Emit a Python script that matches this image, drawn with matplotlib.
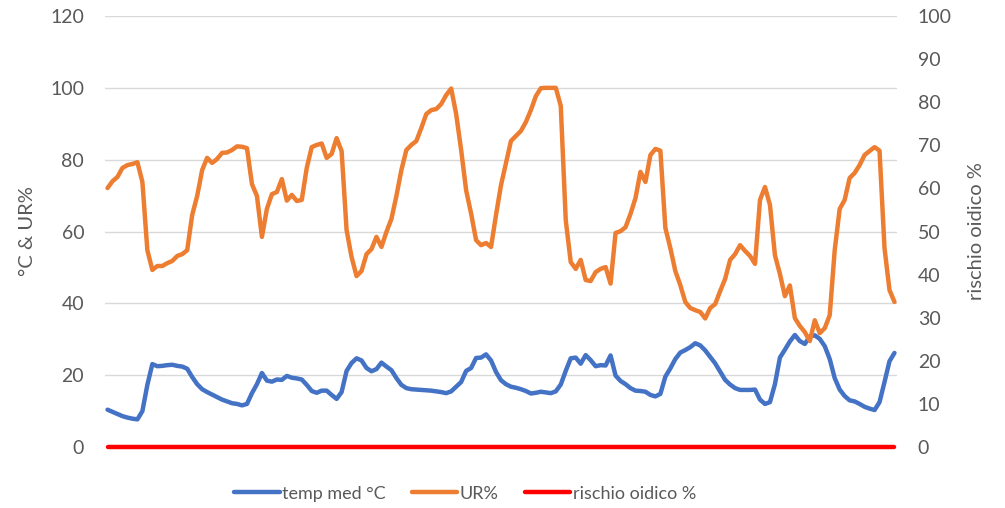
import numpy as np
import matplotlib
matplotlib.use("Agg")
import matplotlib.pyplot as plt

plt.rcParams['font.family'] = ['Lato', 'DejaVu Sans']

# dati (un campione ogni ~5 px)
ur = [72.1, 74.0, 75.2, 77.7, 78.5, 78.8, 79.3, 73.8, 54.8, 49.3,
      50.4, 50.4, 51.2, 51.8, 53.2, 53.7, 54.8, 64.6, 69.9, 77.1,
      80.5, 79.1, 80.2, 81.9, 82.0, 82.7, 83.7, 83.6, 83.2, 73.2,
      69.9, 58.5, 66.3, 70.4, 71.0, 74.6, 68.6, 70.2, 68.5, 68.8,
      77.7, 83.5, 84.1, 84.5, 80.5, 81.6, 86.0, 82.4, 60.4, 52.9,
      47.6, 49.0, 53.7, 55.1, 58.5, 55.7, 59.9, 63.5, 69.9, 77.1,
      82.7, 84.1, 85.2, 88.8, 92.7, 93.8, 94.1, 95.5, 98.0, 99.8,
      92.7, 82.7, 71.5, 65.0, 57.6, 56.2, 56.8, 55.7, 64.6, 72.9,
      79.1, 85.2, 86.6, 88.0, 90.5, 93.8, 97.7, 99.9, 100.0, 100.0,
      100.0, 95.0, 63.2, 51.5, 49.6, 52.1, 46.5, 46.2, 48.7, 49.6,
      50.1, 45.5, 59.6, 60.1, 61.2, 64.9, 69.3, 76.6, 73.8, 81.3,
      83.0, 82.5, 61.0, 55.4, 49.0, 45.1, 40.4, 38.7, 38.1, 37.6,
      35.8, 38.7, 39.8, 43.4, 46.8, 52.1, 53.7, 56.2, 54.6, 53.2,
      51.0, 68.8, 72.4, 67.4, 53.4, 48.2, 42.0, 45.0, 35.9, 33.7,
      32.0, 29.5, 35.3, 31.7, 33.1, 36.7, 54.8, 66.3, 68.8, 74.9,
      76.3, 78.5, 81.3, 82.4, 83.5, 82.5, 55.4, 43.7, 40.4]

temp = [10.4, 9.8, 9.2, 8.6, 8.2, 7.9, 7.7, 10.0, 17.3, 23.1,
        22.5, 22.6, 22.8, 22.9, 22.6, 22.4, 21.8, 19.5, 17.5, 16.1,
        15.3, 14.6, 13.9, 13.2, 12.7, 12.2, 12.0, 11.6, 12.0, 15.0,
        17.5, 20.6, 18.5, 18.2, 18.8, 18.7, 19.8, 19.3, 19.1, 18.8,
        17.3, 15.6, 15.1, 15.7, 15.7, 14.5, 13.4, 15.3, 21.2, 23.4,
        24.7, 24.1, 22.0, 21.1, 21.7, 23.5, 22.4, 21.4, 19.2, 17.3,
        16.4, 16.1, 16.0, 15.9, 15.8, 15.7, 15.5, 15.3, 15.0, 15.5,
        16.8, 18.1, 21.2, 22.0, 24.8, 24.9, 25.8, 24.1, 20.9, 18.6,
        17.5, 16.8, 16.5, 16.1, 15.6, 14.9, 15.1, 15.4, 15.2, 15.0,
        15.5, 17.4, 21.2, 24.7, 24.9, 23.2, 25.6, 24.2, 22.5, 22.8,
        22.7, 25.5, 19.9, 18.4, 17.5, 16.4, 15.7, 15.6, 15.4, 14.5,
        14.1, 14.8, 19.6, 21.9, 24.5, 26.3, 27.0, 27.8, 28.9, 28.3,
        26.9, 25.1, 23.3, 21.0, 18.7, 17.4, 16.4, 15.9, 15.9, 15.9,
        16.0, 13.2, 12.0, 12.5, 17.5, 24.9, 27.1, 29.4, 31.2, 29.5,
        28.7, 30.8, 31.1, 30.1, 28.1, 24.5, 19.2, 16.0, 14.2, 13.0,
        12.7, 12.0, 11.2, 10.7, 10.3, 12.5, 18.1, 23.9, 26.2]

rischio = [0.0] * len(temp)

x = np.arange(len(temp))
txt = '#595959'

fig = plt.figure(figsize=(10.05, 5.08), dpi=100)
ax = fig.add_axes([0.1045, 0.12, 0.788, 0.8485])
ax2 = ax.twinx()

l1, = ax.plot(x, temp, color='#4472C4', lw=3.2, solid_capstyle='round',
              solid_joinstyle='round', label='temp med °C')
l2, = ax.plot(x, ur, color='#ED7D31', lw=3.2, solid_capstyle='round',
              solid_joinstyle='round', label='UR%')
l3, = ax2.plot(x, rischio, color='#FF0000', lw=3.2, solid_capstyle='round',
               clip_on=False, label='rischio oidico %')

ax.set_xlim(-0.5, len(x) - 0.5)
ax.set_ylim(0, 120)
ax.set_yticks(range(0, 121, 20))
ax2.set_ylim(0, 100)
ax2.set_yticks(range(0, 101, 10))
ax.set_xticks([])

ax.grid(axis='y', color='#d9d9d9', lw=1)
ax.set_axisbelow(True)
for a in (ax, ax2):
    for s in a.spines.values():
        s.set_visible(False)
    a.tick_params(axis='y', length=0, labelsize=14, colors=txt, pad=15)

ax.set_ylabel('°C & UR%', fontsize=14.5, color=txt, labelpad=10)
ax2.set_ylabel('rischio oidico %', fontsize=14.5, color=txt, labelpad=12)

fig.legend(handles=[l1, l2, l3], loc='center', bbox_to_anchor=(0.463, 0.028),
           ncol=3, frameon=False, fontsize=13, handlelength=2.5,
           handletextpad=0.15, columnspacing=1.45, labelcolor=txt)

fig.savefig('out.png', dpi=100)
